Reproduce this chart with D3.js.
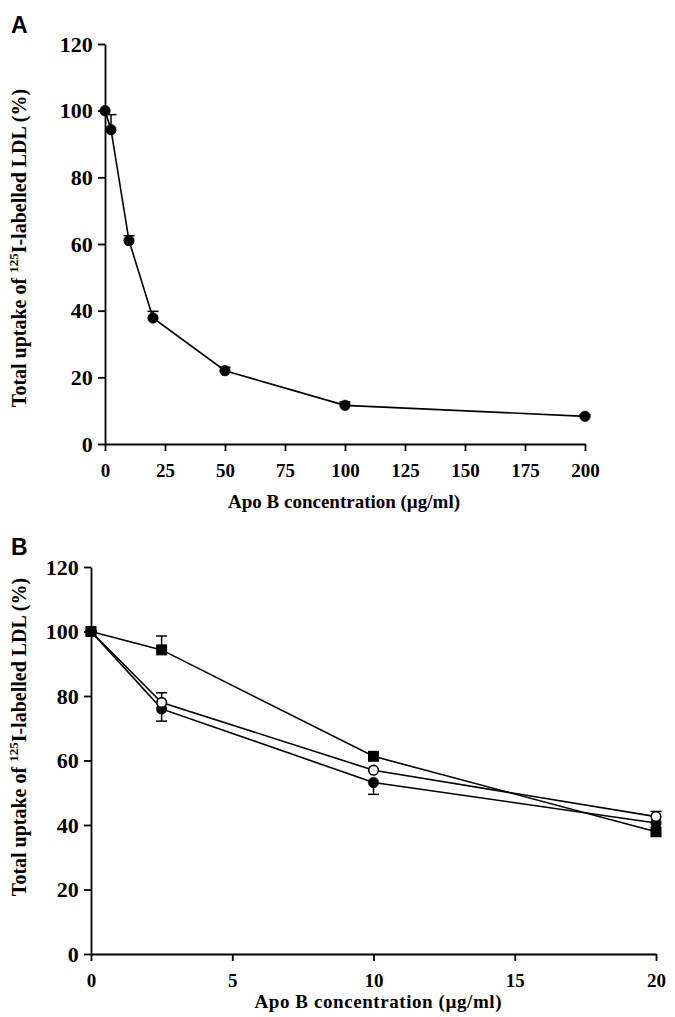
<!DOCTYPE html>
<html><head><meta charset="utf-8">
<script src="https://cdn.jsdelivr.net/npm/d3@7"></script>
<style>body{margin:0;background:#fff}svg{display:block}</style>
</head><body>
<script>
// Panel A data
const concA = [0, 2.5, 10, 20, 50, 100, 200];
const uptakeA = [100, 94.3, 61, 37.8, 22, 11.6, 8.3];
const errA = [0, 4.5, 1.5, 2, 1, 1, 0.5];
const ticksAx = [0, 25, 50, 75, 100, 125, 150, 175, 200];
const ticksY = [0, 20, 40, 60, 80, 100, 120];

// Panel B data
const concB = [0, 2.5, 10, 20];
const squareB = [100, 94.3, 61.3, 37.9];
const squareErrUp = [0, 4.3, 1, 0];
const openB = [100, 78, 57, 42.6];
const openErrUp = [0, 3, 0, 1.6];
const filledB = [100, 76, 53.2, 40.6];
const filledErrDown = [0, 3.8, 3.7, 0];
const ticksBx = [0, 5, 10, 15, 20];

const W = 675, H = 1017;
const svg = d3.select("body").append("svg").attr("width", W).attr("height", H);
const serif = "'Liberation Serif','Times New Roman',serif";

function panel(opt) {
  const g = svg.append("g");
  const x = d3.scaleLinear().domain(opt.xd).range(opt.xr);
  const y = d3.scaleLinear().domain([0, 120]).range(opt.yr);
  const xa = g.append("g").attr("transform", `translate(0,${opt.yr[0]})`)
    .call(d3.axisBottom(x).tickValues(opt.xticks).tickSize(7).tickSizeOuter(0).tickFormat(d3.format("d")));
  const ya = g.append("g").attr("transform", `translate(${opt.xr[0]},0)`)
    .call(d3.axisLeft(y).tickValues(ticksY).tickSize(7).tickSizeOuter(0));
  [xa, ya].forEach(a => {
    a.selectAll("path,line").attr("stroke", "#000").attr("stroke-width", 1.8);
    a.selectAll("text").attr("font-family", serif).attr("font-weight", "bold").attr("fill", "#000");
  });
  xa.selectAll("text").attr("font-size", 19).attr("dy", "1.2em");
  ya.selectAll("text").attr("font-size", 22).attr("dx", "-0.1em");
  g.append("text").attr("x", opt.xtX).attr("y", opt.xtY)
    .attr("text-anchor", "middle").attr("font-family", serif).attr("font-weight", "bold")
    .attr("font-size", 19).attr("textLength", opt.xtLen).attr("lengthAdjust", "spacing")
    .text("Apo B concentration (µg/ml)");
  const yt = g.append("text").attr("transform", `translate(${opt.ytX},${opt.ytY}) rotate(-90)`)
    .attr("text-anchor", "middle").attr("font-family", serif).attr("font-weight", "bold")
    .attr("font-size", 20);
  yt.append("tspan").text("Total uptake of ");
  yt.append("tspan").attr("font-size", 13).attr("dy", -8).text("125");
  yt.append("tspan").attr("dy", 8).text("I-labelled LDL (%)");
  g.append("text").attr("x", 11).attr("y", opt.letterY).attr("font-family", "'Liberation Sans',Arial,sans-serif")
    .attr("font-weight", "bold").attr("font-size", 23).text(opt.letter);
  return {g, x, y};
}

function series(p, xs, ys, errs, dir, shape) {
  const line = d3.line().x((d, i) => p.x(xs[i])).y(d => p.y(d));
  p.g.append("path").datum(ys).attr("d", line).attr("fill", "none").attr("stroke", "#000").attr("stroke-width", 1.6);
  return {p, xs, ys, errs, dir, shape};
}
function marks(s) {
  const {p, xs, ys, errs, dir, shape} = s;
  const eg = p.g.append("g");
  ys.forEach((v, i) => {
    if (!errs[i]) return;
    const e = v + dir * errs[i];
    eg.append("line").attr("x1", p.x(xs[i])).attr("x2", p.x(xs[i])).attr("y1", p.y(v)).attr("y2", p.y(e)).attr("stroke", "#000").attr("stroke-width", 1.5);
    eg.append("line").attr("x1", p.x(xs[i]) - 5.5).attr("x2", p.x(xs[i]) + 5.5).attr("y1", p.y(e)).attr("y2", p.y(e)).attr("stroke", "#000").attr("stroke-width", 1.5);
  });
  const mg = p.g.append("g");
  ys.forEach((v, i) => {
    if (shape === "square") {
      mg.append("rect").attr("x", p.x(xs[i]) - 5.5).attr("y", p.y(v) - 5.5).attr("width", 11).attr("height", 11).attr("fill", "#000");
    } else {
      mg.append("circle").attr("cx", p.x(xs[i])).attr("cy", p.y(v)).attr("r", shape === "open" ? 4.8 : 5.3)
        .attr("fill", shape === "open" ? "#fff" : "#000").attr("stroke", "#000").attr("stroke-width", shape === "open" ? 1.6 : 0.5);
    }
  });
}

const pA = panel({xd: [0, 200], xr: [105, 585], yr: [444, 44], xticks: ticksAx, xtX: 344, xtY: 508, xtLen: 232,
  ytX: 26, ytY: 248, letter: "A", letterY: 33});
marks(series(pA, concA, uptakeA, errA, 1, "filled"));

const pB = panel({xd: [0, 20], xr: [91, 656], yr: [954, 567], xticks: ticksBx, xtX: 378, xtY: 1008, xtLen: 247,
  ytX: 26, ytY: 737, letter: "B", letterY: 555});
const sF = series(pB, concB, filledB, filledErrDown, -1, "filled");
const sO = series(pB, concB, openB, openErrUp, 1, "open");
const sS = series(pB, concB, squareB, squareErrUp, 1, "square");
marks(sF); marks(sO); marks(sS);
</script>
</body></html>
